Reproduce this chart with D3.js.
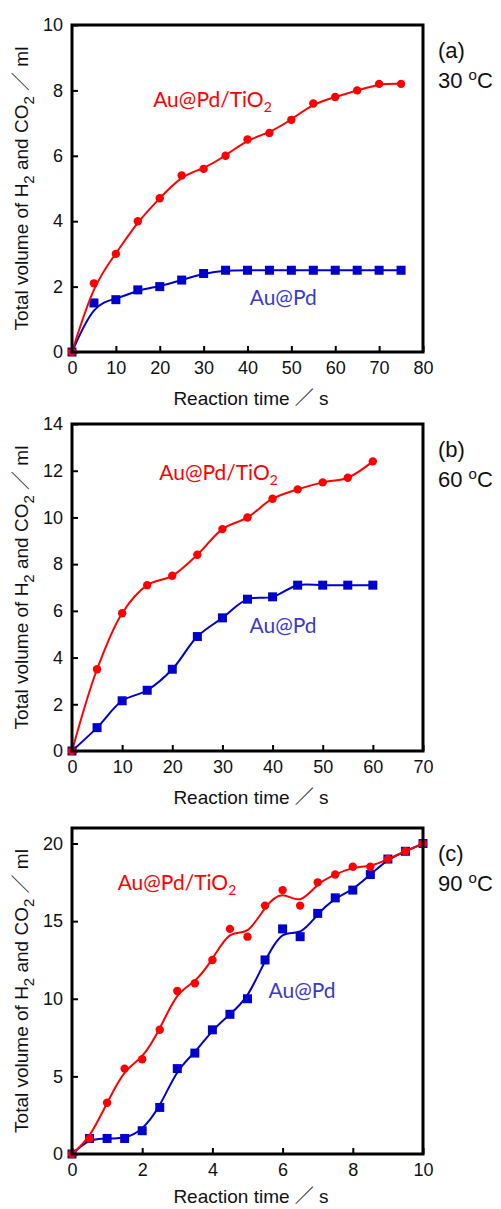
<!DOCTYPE html>
<html>
<head>
<meta charset="utf-8">
<script src="https://cdn.jsdelivr.net/npm/d3@7"></script>
<style>
  html, body { margin: 0; padding: 0; background: #fff; }
  svg { display: block; }
</style>
</head>
<body>
<svg id="chart" width="501" height="1209"></svg>
<script>
// Reaction times (s) for each temperature run
const timesA = [0, 5, 10, 15, 20, 25, 30, 35, 40, 45, 50, 55, 60, 65, 70, 75];
const timesB = [0, 5, 10, 15, 20, 25, 30, 35, 40, 45, 50, 55, 60];
const timesC = [0, 0.5, 1, 1.5, 2, 2.5, 3, 3.5, 4, 4.5, 5, 5.5, 6, 6.5, 7, 7.5, 8, 8.5, 9, 9.5, 10];

// Total gas volume (ml), 30 °C
const tio2A = [0, 2.1, 3.0, 4.0, 4.7, 5.4, 5.6, 6.0, 6.5, 6.7, 7.1, 7.6, 7.8, 8.0, 8.2, 8.2];
const aupdA = [0, 1.5, 1.6, 1.9, 2.0, 2.2, 2.4, 2.5, 2.5, 2.5, 2.5, 2.5, 2.5, 2.5, 2.5, 2.5];

// Total gas volume (ml), 60 °C
const tio2B = [0, 3.5, 5.9, 7.1, 7.5, 8.4, 9.5, 10.0, 10.8, 11.2, 11.5, 11.7, 12.4];
const aupdB = [0, 1.0, 2.15, 2.6, 3.5, 4.9, 5.7, 6.5, 6.6, 7.1, 7.1, 7.1, 7.1];

// Total gas volume (ml), 90 °C
const tio2C = [0, 1.0, 3.3, 5.5, 6.1, 8.0, 10.5, 11.0, 12.5, 14.5, 14.0, 16.0, 17.0, 16.0, 17.5, 18.0, 18.5, 18.5, 19.0, 19.5, 20.0];
const aupdC = [0, 1.0, 1.0, 1.0, 1.5, 3.0, 5.5, 6.5, 8.0, 9.0, 10.0, 12.5, 14.5, 14.0, 15.5, 16.5, 17.0, 18.0, 19.0, 19.5, 20.0];

// Axis ticks
const xTicksA = [0, 10, 20, 30, 40, 50, 60, 70, 80];
const yTicksA = [0, 2, 4, 6, 8, 10];
const xTicksB = [0, 10, 20, 30, 40, 50, 60, 70];
const yTicksB = [0, 2, 4, 6, 8, 10, 12, 14];
const xTicksC = [0, 2, 4, 6, 8, 10];
const yTicksC = [0, 5, 10, 15, 20];

// Panel tags and temperatures
const panelTags = ["(a)", "(b)", "(c)"];
const temps = ["30", "60", "90"];
const seriesNames = ["Au@Pd/TiO", "Au@Pd"];

const RED = "#ff0000";
const BLUE = "#0000cc";
const BLUE_TEXT = "#3a3acc";
const AXIS_FONT = "'Liberation Sans', Arial, 'Noto Sans CJK JP', sans-serif";
const LABEL_FONT = "Lato, 'Open Sans', sans-serif";

const svg = d3.select("#chart");
svg.append("rect").attr("width", 501).attr("height", 1209).attr("fill", "#fff");

const panels = [
  { tag: panelTags[0], temp: temps[0], top: 25, bottom: 352, titleGap: 53,
    x: timesA, red: tio2A, blue: aupdA, xDom: [0, 80], yDom: [0, 10],
    xTicks: xTicksA, yTicks: yTicksA,
    redCurve: d3.curveBasis, blueCurve: d3.curveBasis,
    redLabel: [18.5, 7.5], blueLabel: [40.5, 1.44] },
  { tag: panelTags[1], temp: temps[1], top: 424, bottom: 751, titleGap: 53,
    x: timesB, red: tio2B, blue: aupdB, xDom: [0, 70], yDom: [0, 14],
    xTicks: xTicksB, yTicks: yTicksB,
    redCurve: d3.curveCatmullRom.alpha(0.5), blueCurve: d3.curveCatmullRom.alpha(0.5),
    redLabel: [17.4, 11.6], blueLabel: [35.4, 5.05] },
  { tag: panelTags[2], temp: temps[2], top: 828, bottom: 1154, titleGap: 49,
    x: timesC, red: tio2C, blue: aupdC, xDom: [0, 10], yDom: [0, 21],
    xTicks: xTicksC, yTicks: yTicksC,
    redCurve: d3.curveBasis, blueCurve: d3.curveBasis,
    redLabel: [1.3, 17.0], blueLabel: [5.6, 10.06] }
];

const left = 72, right = 423;

panels.forEach(p => {
  const g = svg.append("g");
  const x = d3.scaleLinear().domain(p.xDom).range([left, right]);
  const y = d3.scaleLinear().domain(p.yDom).range([p.bottom, p.top]);

  // Axes with inward ticks
  const xAxis = d3.axisBottom(x).tickValues(p.xTicks).tickSize(-6).tickPadding(9).tickFormat(d3.format("d"));
  const yAxis = d3.axisLeft(y).tickValues(p.yTicks).tickSize(-6).tickPadding(9).tickFormat(d3.format("d"));

  const gx = g.append("g").attr("transform", `translate(0,${p.bottom})`).call(xAxis);
  const gy = g.append("g").attr("transform", `translate(${left},0)`).call(yAxis);
  [gx, gy].forEach(a => {
    a.select(".domain").remove();
    a.selectAll(".tick line").attr("stroke", "#000").attr("stroke-width", 2);
    a.selectAll(".tick text").attr("fill", "#111").style("font-family", AXIS_FONT).style("font-size", "18px");
  });

  // Lines
  const line = (vals, curve) => d3.line()
    .x((d, i) => x(p.x[i]))
    .y(d => y(d))
    .curve(curve)(vals);

  g.append("path").attr("d", line(p.blue, p.blueCurve))
    .attr("fill", "none").attr("stroke", BLUE).attr("stroke-width", 2);
  g.append("g").selectAll("rect").data(p.blue).join("rect")
    .attr("x", (d, i) => x(p.x[i]) - 4.5).attr("y", d => y(d) - 4.5)
    .attr("width", 9).attr("height", 9).attr("fill", BLUE);

  g.append("path").attr("d", line(p.red, p.redCurve))
    .attr("fill", "none").attr("stroke", RED).attr("stroke-width", 2);
  g.append("g").selectAll("circle").data(p.red).join("circle")
    .attr("cx", (d, i) => x(p.x[i])).attr("cy", d => y(d))
    .attr("r", 4.2).attr("fill", RED);

  // Frame
  g.append("rect").attr("x", left).attr("y", p.top)
    .attr("width", right - left).attr("height", p.bottom - p.top)
    .attr("fill", "none").attr("stroke", "#000").attr("stroke-width", 3);

  // Series labels
  const rl = g.append("text").attr("x", x(p.redLabel[0])).attr("y", y(p.redLabel[1]))
    .attr("fill", RED).style("font-family", LABEL_FONT).style("font-size", "21px");
  rl.append("tspan").text(seriesNames[0]);
  rl.append("tspan").attr("dy", 5).style("font-size", "14px").text("2");

  g.append("text").attr("x", x(p.blueLabel[0])).attr("y", y(p.blueLabel[1]))
    .attr("fill", BLUE_TEXT).style("font-family", LABEL_FONT).style("font-size", "21px")
    .text(seriesNames[1]);

  // Panel tag and temperature
  g.append("text").attr("x", 438).attr("y", p.top + 33)
    .attr("fill", "#111").style("font-family", AXIS_FONT).style("font-size", "22px")
    .text(p.tag);
  const tt = g.append("text").attr("x", 438).attr("y", p.top + 63)
    .attr("fill", "#111").style("font-family", AXIS_FONT).style("font-size", "22px");
  tt.append("tspan").text(p.temp + " ");
  tt.append("tspan").attr("dy", -8).style("font-size", "15px").text("o");
  tt.append("tspan").attr("dy", 8).text("C");

  // X axis title
  g.append("text").attr("x", 251).attr("y", p.bottom + p.titleGap)
    .attr("text-anchor", "middle").attr("fill", "#111")
    .style("font-family", AXIS_FONT).style("font-size", "19px")
    .text("Reaction time ／ s");

  // Y axis title
  const cy = (p.top + p.bottom) / 2;
  const yt = g.append("text")
    .attr("transform", `translate(28,${cy}) rotate(-90)`)
    .attr("text-anchor", "middle").attr("fill", "#111")
    .style("font-family", AXIS_FONT).style("font-size", "19px");
  yt.append("tspan").text("Total volume of H");
  yt.append("tspan").attr("dy", 6).style("font-size", "15px").text("2");
  yt.append("tspan").attr("dy", -6).text(" and CO");
  yt.append("tspan").attr("dy", 6).style("font-size", "15px").text("2");
  yt.append("tspan").attr("dy", -6).text(" ／ ml");
});
</script>
</body>
</html>
